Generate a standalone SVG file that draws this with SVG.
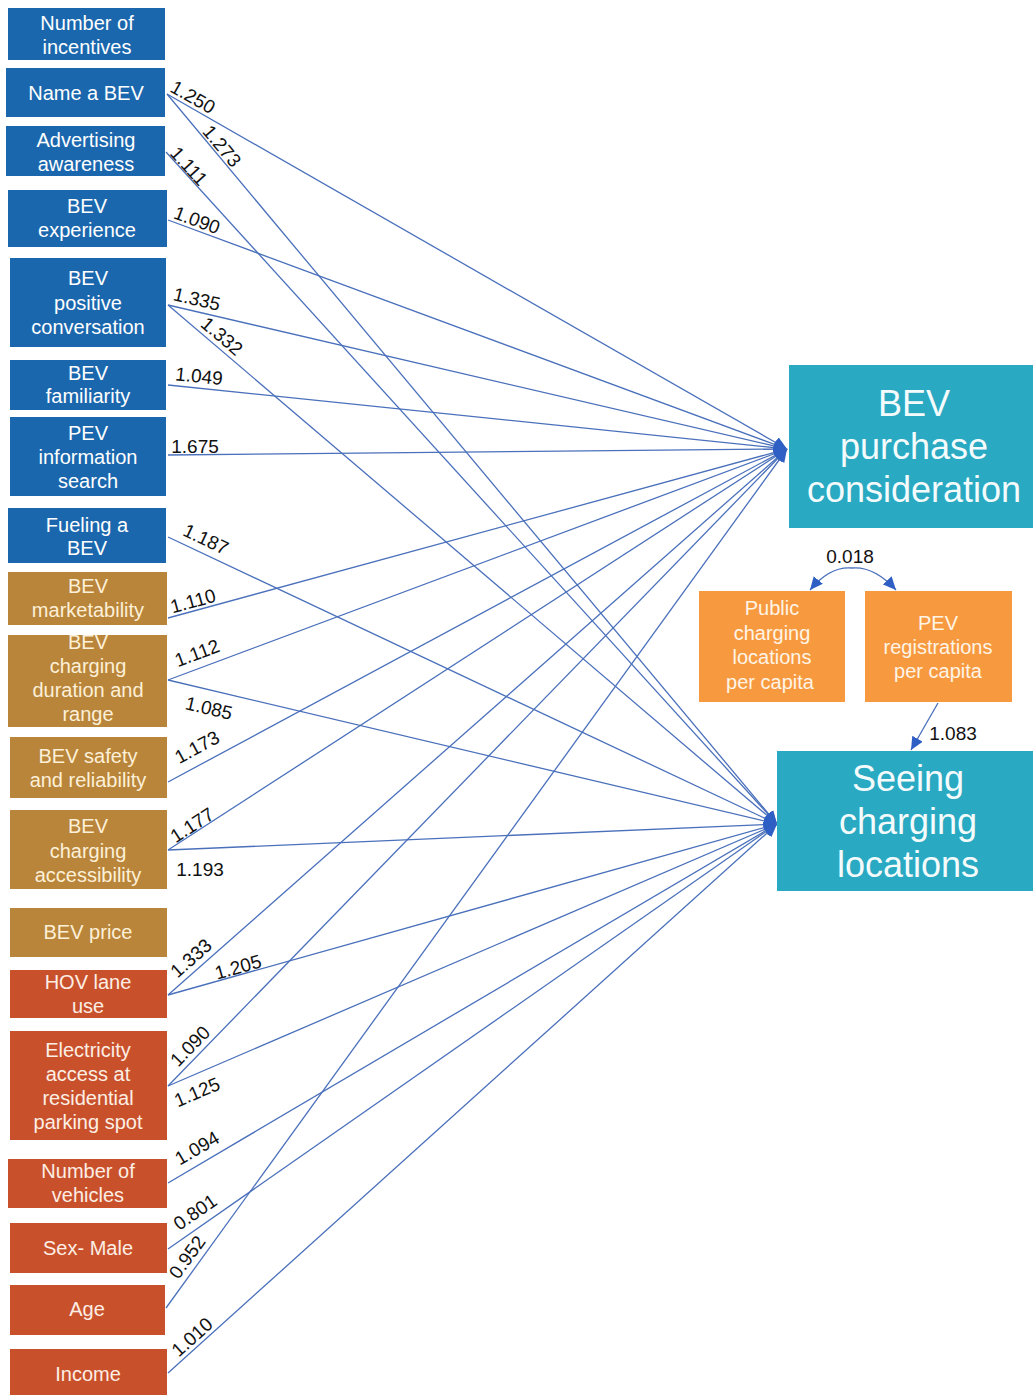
<svg xmlns="http://www.w3.org/2000/svg" width="1033" height="1395" viewBox="0 0 1033 1395">
<defs>
<marker id="ah" markerUnits="userSpaceOnUse" markerWidth="14" markerHeight="12" refX="13" refY="6" orient="auto">
<path d="M0,0 L13,6 L0,12 Z" fill="#2f5fc4"/>
</marker>
<style>
.blue{fill:#1b67ae}
.brown{fill:#b9853a}
.red{fill:#c8512c}
.orange{fill:#f79a3f}
.teal{fill:#2aa9c2}
.nt{font-family:"Liberation Sans",Arial,sans-serif;font-size:20px;text-anchor:middle;fill:#ffffff}
.ntb{font-family:"Liberation Sans",Arial,sans-serif;font-size:20px;text-anchor:middle;fill:#fdf0d8}
.ntr{font-family:"Liberation Sans",Arial,sans-serif;font-size:20px;text-anchor:middle;fill:#fdeee4}
.big{font-family:"Liberation Sans",Arial,sans-serif;font-size:36px;text-anchor:middle;fill:#f4fbfc}
.ot{font-family:"Liberation Sans",Arial,sans-serif;font-size:20px;text-anchor:middle;fill:#fff4e6}
.ln{stroke:#4a70bb;stroke-width:1.3;fill:none}
.lb{font-family:"Liberation Sans",Arial,sans-serif;font-size:19px;text-anchor:middle;fill:#111111}
</style>
</defs>
<rect width="1033" height="1395" fill="#ffffff"/>

<g id="connectors">
<line class="ln" x1="167" y1="94" x2="787" y2="449" marker-end="url(#ah)"/>
<line class="ln" x1="167" y1="94" x2="777" y2="824" marker-end="url(#ah)"/>
<line class="ln" x1="166" y1="152" x2="777" y2="824" marker-end="url(#ah)"/>
<line class="ln" x1="168" y1="220" x2="787" y2="449" marker-end="url(#ah)"/>
<line class="ln" x1="168" y1="305" x2="787" y2="449" marker-end="url(#ah)"/>
<line class="ln" x1="168" y1="305" x2="777" y2="824" marker-end="url(#ah)"/>
<line class="ln" x1="168" y1="385" x2="787" y2="449" marker-end="url(#ah)"/>
<line class="ln" x1="168" y1="455" x2="787" y2="449" marker-end="url(#ah)"/>
<line class="ln" x1="168" y1="537" x2="777" y2="824" marker-end="url(#ah)"/>
<line class="ln" x1="168" y1="618" x2="787" y2="449" marker-end="url(#ah)"/>
<line class="ln" x1="168" y1="680" x2="787" y2="449" marker-end="url(#ah)"/>
<line class="ln" x1="168" y1="680" x2="777" y2="824" marker-end="url(#ah)"/>
<line class="ln" x1="168" y1="782" x2="787" y2="449" marker-end="url(#ah)"/>
<line class="ln" x1="168" y1="850" x2="787" y2="449" marker-end="url(#ah)"/>
<line class="ln" x1="168" y1="850" x2="777" y2="824" marker-end="url(#ah)"/>
<line class="ln" x1="168" y1="995" x2="787" y2="449" marker-end="url(#ah)"/>
<line class="ln" x1="168" y1="995" x2="777" y2="824" marker-end="url(#ah)"/>
<line class="ln" x1="168" y1="1086" x2="787" y2="449" marker-end="url(#ah)"/>
<line class="ln" x1="168" y1="1086" x2="777" y2="824" marker-end="url(#ah)"/>
<line class="ln" x1="168" y1="1183" x2="777" y2="824" marker-end="url(#ah)"/>
<line class="ln" x1="168" y1="1249" x2="777" y2="824" marker-end="url(#ah)"/>
<line class="ln" x1="166" y1="1308" x2="787" y2="449" marker-end="url(#ah)"/>
<line class="ln" x1="168" y1="1373" x2="777" y2="824" marker-end="url(#ah)"/>
<path class="ln" d="M852,568 Q830,566 810,590" marker-end="url(#ah)"/>
<path class="ln" d="M852,568 Q874,566 896,590" marker-end="url(#ah)"/>
<line class="ln" x1="938" y1="703" x2="911" y2="750" marker-end="url(#ah)"/>

<text class="lb" transform="translate(193,97) rotate(29.9)" dy="0.35em">1.250</text>
<text class="lb" transform="translate(222,146) rotate(50)" dy="0.35em">1.273</text>
<text class="lb" transform="translate(189,166) rotate(47.7)" dy="0.35em">1.111</text>
<text class="lb" transform="translate(197,220) rotate(20.4)" dy="0.35em">1.090</text>
<text class="lb" transform="translate(197,299) rotate(13.1)" dy="0.35em">1.335</text>
<text class="lb" transform="translate(222,336) rotate(40.4)" dy="0.35em">1.332</text>
<text class="lb" transform="translate(199,376) rotate(5.9)" dy="0.35em">1.049</text>
<text class="lb" transform="translate(195,446)" dy="0.35em">1.675</text>
<text class="lb" transform="translate(206,539) rotate(25.2)" dy="0.35em">1.187</text>
<text class="lb" transform="translate(193,601) rotate(-15.3)" dy="0.35em">1.110</text>
<text class="lb" transform="translate(197,653) rotate(-20.5)" dy="0.35em">1.112</text>
<text class="lb" transform="translate(209,708) rotate(13.2)" dy="0.35em">1.085</text>
<text class="lb" transform="translate(197,747) rotate(-28.4)" dy="0.35em">1.173</text>
<text class="lb" transform="translate(192,825) rotate(-33)" dy="0.35em">1.177</text>
<text class="lb" transform="translate(200,869)" dy="0.35em">1.193</text>
<text class="lb" transform="translate(191,958) rotate(-41.5)" dy="0.35em">1.333</text>
<text class="lb" transform="translate(238,967) rotate(-15.6)" dy="0.35em">1.205</text>
<text class="lb" transform="translate(190,1046) rotate(-45.9)" dy="0.35em">1.090</text>
<text class="lb" transform="translate(197,1092) rotate(-23.2)" dy="0.35em">1.125</text>
<text class="lb" transform="translate(197,1148) rotate(-30.4)" dy="0.35em">1.094</text>
<text class="lb" transform="translate(195,1212) rotate(-34.8)" dy="0.35em">0.801</text>
<text class="lb" transform="translate(187,1257) rotate(-54.2)" dy="0.35em">0.952</text>
<text class="lb" transform="translate(192,1337) rotate(-42)" dy="0.35em">1.010</text>
<text class="lb" x="850" y="563">0.018</text>
<text class="lb" x="953" y="740">1.083</text>
</g>

<g id="n-incentives"><rect class="blue" x="8" y="8" width="157" height="52"/><text class="nt" x="87"><tspan x="87" y="30">Number of</tspan><tspan x="87" y="54">incentives</tspan></text></g>
<g id="n-name"><rect class="blue" x="6" y="68" width="159" height="49"/><text class="nt" x="86" y="100">Name a BEV</text></g>
<g id="n-advertising"><rect class="blue" x="6" y="126" width="159" height="50"/><text class="nt"><tspan x="86" y="147">Advertising</tspan><tspan x="86" y="171">awareness</tspan></text></g>
<g id="n-experience"><rect class="blue" x="8" y="190" width="159" height="57"/><text class="nt"><tspan x="87" y="213">BEV</tspan><tspan x="87" y="237">experience</tspan></text></g>
<g id="n-conversation"><rect class="blue" x="10" y="258" width="156" height="89"/><text class="nt"><tspan x="88" y="285">BEV</tspan><tspan x="88" y="310">positive</tspan><tspan x="88" y="334">conversation</tspan></text></g>
<g id="n-familiarity"><rect class="blue" x="10" y="360" width="156" height="50"/><text class="nt"><tspan x="88" y="380">BEV</tspan><tspan x="88" y="403">familiarity</tspan></text></g>
<g id="n-infosearch"><rect class="blue" x="10" y="417" width="156" height="79"/><text class="nt"><tspan x="88" y="440">PEV</tspan><tspan x="88" y="464">information</tspan><tspan x="88" y="488">search</tspan></text></g>
<g id="n-fueling"><rect class="blue" x="8" y="508" width="158" height="55"/><text class="nt"><tspan x="87" y="532">Fueling a</tspan><tspan x="87" y="555">BEV</tspan></text></g>
<g id="n-marketability"><rect class="brown" x="8" y="572" width="159" height="53"/><text class="ntb"><tspan x="88" y="593">BEV</tspan><tspan x="88" y="617">marketability</tspan></text></g>
<g id="n-duration"><rect class="brown" x="8" y="635" width="159" height="92"/><text class="ntb"><tspan x="88" y="649">BEV</tspan><tspan x="88" y="673">charging</tspan><tspan x="88" y="697">duration and</tspan><tspan x="88" y="721">range</tspan></text></g>
<g id="n-safety"><rect class="brown" x="10" y="737" width="157" height="61"/><text class="ntb"><tspan x="88" y="763">BEV safety</tspan><tspan x="88" y="787">and reliability</tspan></text></g>
<g id="n-accessibility"><rect class="brown" x="10" y="810" width="157" height="79"/><text class="ntb"><tspan x="88" y="833">BEV</tspan><tspan x="88" y="858">charging</tspan><tspan x="88" y="882">accessibility</tspan></text></g>
<g id="n-price"><rect class="brown" x="10" y="908" width="157" height="49"/><text class="ntb" x="88" y="939">BEV price</text></g>
<g id="n-hov"><rect class="red" x="10" y="970" width="157" height="48"/><text class="ntr"><tspan x="88" y="989">HOV lane</tspan><tspan x="88" y="1013">use</tspan></text></g>
<g id="n-electricity"><rect class="red" x="10" y="1031" width="157" height="109"/><text class="ntr"><tspan x="88" y="1057">Electricity</tspan><tspan x="88" y="1081">access at</tspan><tspan x="88" y="1105">residential</tspan><tspan x="88" y="1129">parking spot</tspan></text></g>
<g id="n-vehicles"><rect class="red" x="8" y="1159" width="159" height="49"/><text class="ntr"><tspan x="88" y="1178">Number of</tspan><tspan x="88" y="1202">vehicles</tspan></text></g>
<g id="n-sex"><rect class="red" x="10" y="1223" width="157" height="50"/><text class="ntr" x="88" y="1255">Sex- Male</text></g>
<g id="n-age"><rect class="red" x="10" y="1285" width="155" height="50"/><text class="ntr" x="87" y="1316">Age</text></g>
<g id="n-income"><rect class="red" x="10" y="1349" width="157" height="46"/><text class="ntr" x="88" y="1381">Income</text></g>

<g id="n-purchase"><rect class="teal" x="789" y="365" width="244" height="163"/><text class="big"><tspan x="914" y="416">BEV</tspan><tspan x="914" y="459">purchase</tspan><tspan x="914" y="502">consideration</tspan></text></g>
<g id="n-public"><rect class="orange" x="699" y="591" width="146" height="111"/><text class="ot"><tspan x="772" y="615">Public</tspan><tspan x="772" y="640">charging</tspan><tspan x="772" y="664">locations</tspan><tspan x="770" y="689">per capita</tspan></text></g>
<g id="n-registrations"><rect class="orange" x="865" y="591" width="147" height="111"/><text class="ot"><tspan x="938" y="630">PEV</tspan><tspan x="938" y="654">registrations</tspan><tspan x="938" y="678">per capita</tspan></text></g>
<g id="n-seeing"><rect class="teal" x="777" y="751" width="256" height="140"/><text class="big"><tspan x="908" y="791">Seeing</tspan><tspan x="908" y="834">charging</tspan><tspan x="908" y="877">locations</tspan></text></g>
</svg>
